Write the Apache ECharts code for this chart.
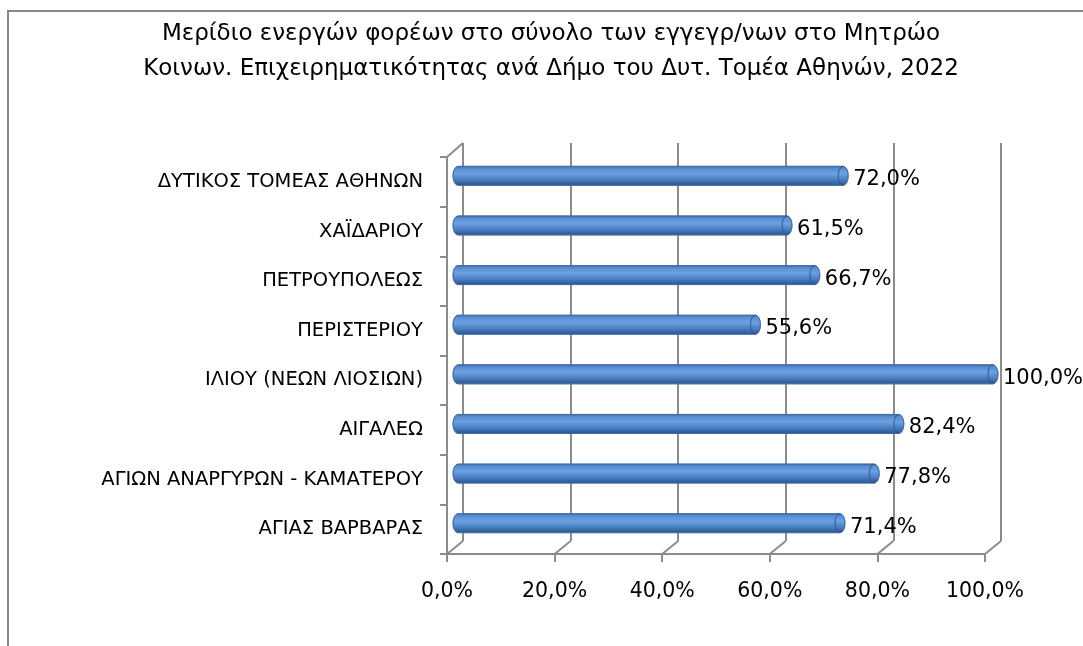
<!DOCTYPE html>
<html>
<head>
<meta charset="utf-8">
<script src="https://cdn.jsdelivr.net/npm/echarts@6/dist/echarts.min.js"></script>
<style>
  html, body { margin: 0; padding: 0; background: #fff; }
  #chart { width: 1083px; height: 646px; }
</style>
</head>
<body>
<div id="chart"></div>
<script>
const categories = [
  'ΔΥΤΙΚΟΣ ΤΟΜΕΑΣ ΑΘΗΝΩΝ',
  'ΧΑΪΔΑΡΙΟΥ',
  'ΠΕΤΡΟΥΠΟΛΕΩΣ',
  'ΠΕΡΙΣΤΕΡΙΟΥ',
  'ΙΛΙΟΥ (ΝΕΩΝ ΛΙΟΣΙΩΝ)',
  'ΑΙΓΑΛΕΩ',
  'ΑΓΙΩΝ ΑΝΑΡΓΥΡΩΝ - ΚΑΜΑΤΕΡΟΥ',
  'ΑΓΙΑΣ ΒΑΡΒΑΡΑΣ'
]
const shares = [72.0, 61.5, 66.7, 55.6, 100.0, 82.4, 77.8, 71.4]
const tickValues = [0, 20, 40, 60, 80, 100]

const FONT = '"DejaVu Sans", sans-serif'
const GRAY = '#8c8c8c'
const pct = v => v.toFixed(1).replace('.', ',') + '%'

// back wall, front axes, bars in between (fake 3D depth)
const back = { left: 463, right: 82, top: 143, bottom: 105 }
const front = { left: 447, right: 98, top: 157, bottom: 92 }
const mid = { left: 458, right: 90, top: 151, bottom: 98 }

const barGradient = new echarts.graphic.LinearGradient(0, 0, 0, 1, [
  { offset: 0, color: '#3e6dab' },
  { offset: 0.15, color: '#5a8fd3' },
  { offset: 0.4, color: '#6ba0e3' },
  { offset: 0.7, color: '#4a7ec0' },
  { offset: 0.9, color: '#33619c' },
  { offset: 1, color: '#284e82' }
])

const valueAxis = (idx, showAll) => ({
  type: 'value', gridIndex: idx, min: 0, max: 100, interval: 20,
  axisLine: { show: showAll, onZero: false, lineStyle: { color: GRAY, width: 2 } },
  axisTick: { show: showAll, length: 8, lineStyle: { color: GRAY, width: 2 } },
  axisLabel: { show: showAll, formatter: pct, color: '#000', fontFamily: FONT, fontSize: 20.5, margin: 27 },
  splitLine: { show: idx === 0, lineStyle: { color: GRAY, width: 2 } }
})

const catAxis = (idx, showAll) => ({
  type: 'category', gridIndex: idx, data: categories, inverse: true,
  axisLine: { show: showAll, lineStyle: { color: GRAY, width: 2 } },
  axisTick: { show: showAll, length: 7, lineStyle: { color: GRAY, width: 2 } },
  axisLabel: { show: showAll, color: '#000', fontFamily: FONT, fontSize: 19.5, margin: 24, lineHeight: 26, padding: [5, 0, 0, 0] },
  splitLine: { show: false }
})

const chart = echarts.init(document.getElementById('chart'))
chart.setOption({
  animation: false,
  backgroundColor: '#fff',
  grid: [back, front, mid],
  xAxis: [valueAxis(0, false), valueAxis(1, true), valueAxis(2, false)],
  yAxis: [catAxis(0, false), catAxis(1, true), catAxis(2, false)],
  series: [{
    type: 'custom',
    xAxisIndex: 2,
    yAxisIndex: 2,
    data: shares.map((v, i) => [v, i]),
    renderItem: function (params, api) {
      const p0 = api.coord([0, api.value(1)])
      const p1 = api.coord([api.value(0), api.value(1)])
      const h = 19, rx = 5, y = p0[1]
      const x0 = p0[0], x1 = p1[0]
      const top = y - h / 2, bot = y + h / 2
      const body = 'M' + x0 + ' ' + top + ' L' + x1 + ' ' + top +
        ' A' + rx + ' ' + (h / 2) + ' 0 0 1 ' + x1 + ' ' + bot +
        ' L' + x0 + ' ' + bot +
        ' A' + rx + ' ' + (h / 2) + ' 0 0 1 ' + x0 + ' ' + top + ' Z'
      const cap = 'M' + x1 + ' ' + top +
        ' A' + rx + ' ' + (h / 2) + ' 0 0 0 ' + x1 + ' ' + bot
      return {
        type: 'group',
        children: [
          { type: 'path', shape: { pathData: body }, style: { fill: barGradient, stroke: '#3d6aa6', lineWidth: 0.8 } },
          { type: 'path', shape: { pathData: cap }, style: { fill: null, stroke: '#2f5890', lineWidth: 1 } },
          {
            type: 'text',
            style: {
              text: pct(api.value(0)), x: x1 + rx + 5, y: y + 4,
              font: '21px ' + FONT, fill: '#000',
              textAlign: 'left', align: 'left', textVerticalAlign: 'middle', verticalAlign: 'middle'
            }
          }
        ]
      }
    }
  }]
})

// floor and wall edges joining front axes to the back wall
function drawFrame () {
  const els = []
  const line = (a, b) => els.push({
    type: 'line', silent: true,
    shape: { x1: a[0], y1: a[1], x2: b[0], y2: b[1] },
    style: { stroke: GRAY, lineWidth: 2 }
  })
  const fy = 646 - front.bottom, by = 646 - back.bottom
  tickValues.forEach(v => {
    const fx = chart.convertToPixel({ xAxisIndex: 1 }, v)
    const bx = chart.convertToPixel({ xAxisIndex: 0 }, v)
    line([fx, fy], [bx, by])
  })
  line([front.left, front.top], [back.left, back.top])
  els.push({
    type: 'rect', silent: true, z: -1,
    shape: { x: 8, y: 11, width: 1200, height: 800 },
    style: { fill: null, stroke: '#888', lineWidth: 2 }
  })
  els.push({
    type: 'text', silent: true,
    style: {
      text: 'Μερίδιο ενεργών φορέων στο σύνολο των εγγεγρ/νων στο Μητρώο\nΚοινων. Επιχειρηματικότητας ανά Δήμο του Δυτ. Τομέα Αθηνών, 2022',
      x: 551, y: 17, font: '23px ' + FONT, lineHeight: 35, fill: '#000',
      textAlign: 'center', align: 'center'
    }
  })
  chart.setOption({ graphic: els })
}
drawFrame()
</script>
</body>
</html>
